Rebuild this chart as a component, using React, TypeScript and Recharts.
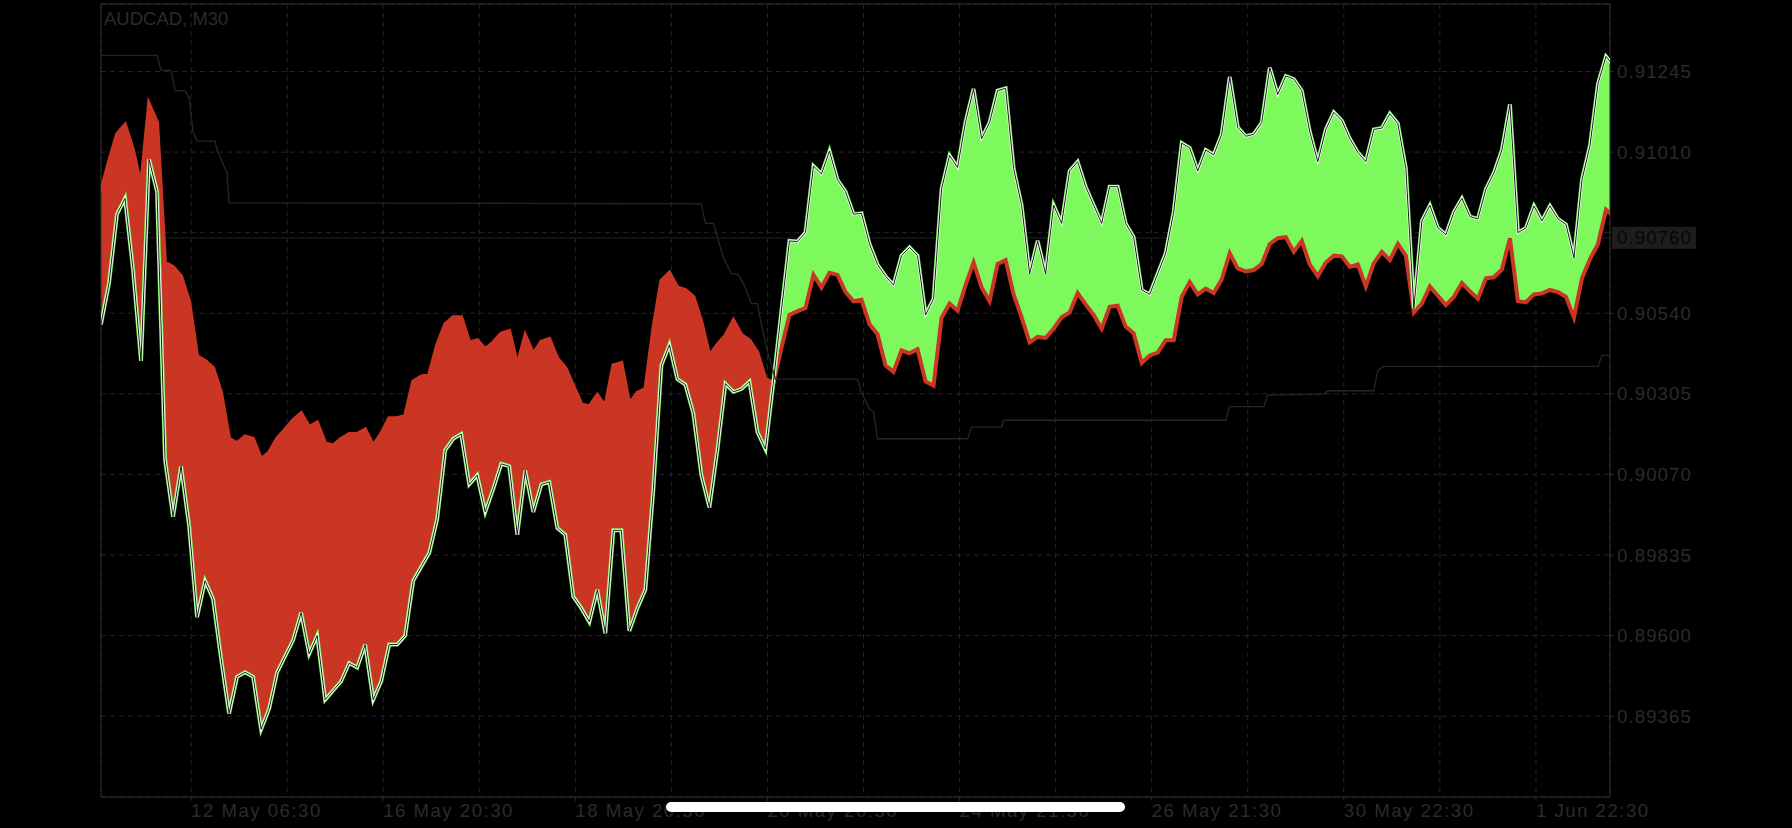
import React from 'react';
import { ComposedChart, Area, Line, XAxis, YAxis, CartesianGrid, ReferenceLine, ReferenceArea } from 'recharts';

// smoothed price, sampled every 4 bars (M30)
const priceLine = [
  0.90508, 0.90628, 0.90829, 0.90875, 0.90668, 0.90401, 0.90989, 0.90895, 0.90114, 0.89947,
  0.90094, 0.89921, 0.89654, 0.89760, 0.89707, 0.89533, 0.89373, 0.89480, 0.89493, 0.89480,
  0.89327, 0.89387, 0.89493, 0.89540, 0.89587, 0.89667, 0.89547, 0.89600, 0.89413, 0.89440,
  0.89467, 0.89520, 0.89507, 0.89574, 0.89413, 0.89467, 0.89574, 0.89574, 0.89600, 0.89760,
  0.89801, 0.89841, 0.89941, 0.90141, 0.90174, 0.90188, 0.90041, 0.90068, 0.89961, 0.90028,
  0.90101, 0.90094, 0.89894, 0.90081, 0.89961, 0.90041, 0.90048, 0.89914, 0.89894, 0.89714,
  0.89680, 0.89640, 0.89734, 0.89607, 0.89907, 0.89907, 0.89614, 0.89680, 0.89734, 0.90028,
  0.90388, 0.90448, 0.90348, 0.90332, 0.90248, 0.90068, 0.89974, 0.90141, 0.90335, 0.90311,
  0.90319, 0.90341, 0.90194, 0.90144, 0.90341, 0.90548, 0.90751, 0.90749, 0.90775, 0.90969,
  0.90946, 0.91013, 0.90929, 0.90895, 0.90829, 0.90831, 0.90742, 0.90682, 0.90648, 0.90622,
  0.90708, 0.90732, 0.90708, 0.90535, 0.90582, 0.90902, 0.91000, 0.90965, 0.91098, 0.91194,
  0.91049, 0.91096, 0.91189, 0.91196, 0.90962, 0.90855, 0.90655, 0.90751, 0.90655, 0.90855,
  0.90802, 0.90955, 0.90982, 0.90909, 0.90855, 0.90802, 0.90909, 0.90909, 0.90802, 0.90762,
  0.90608, 0.90595, 0.90655, 0.90715, 0.90835, 0.91036, 0.91022, 0.90955, 0.91016, 0.91002,
  0.91062, 0.91229, 0.91082, 0.91056, 0.91062, 0.91096, 0.91256, 0.91178, 0.91232, 0.91223,
  0.91189, 0.91069, 0.90982, 0.91076, 0.91126, 0.91102, 0.91049, 0.91009, 0.90982, 0.91076,
  0.91080, 0.91122, 0.91093, 0.90962, 0.90555, 0.90809, 0.90855, 0.90789, 0.90769, 0.90835,
  0.90875, 0.90822, 0.90815, 0.90902, 0.90949, 0.91016, 0.91149, 0.90775, 0.90789, 0.90853,
  0.90809, 0.90853, 0.90815, 0.90799, 0.90702, 0.90929, 0.91029, 0.91209, 0.91289, 0.91260,
];

// slow signal line (red)
const signalLine = [
  0.90895, 0.90982, 0.91062, 0.91089, 0.91016, 0.90909, 0.91149, 0.91096, 0.90688, 0.90675,
  0.90648, 0.90575, 0.90415, 0.90401, 0.90381, 0.90308, 0.90174, 0.90161, 0.90181, 0.90174,
  0.90114, 0.90134, 0.90174, 0.90201, 0.90228, 0.90248, 0.90208, 0.90221, 0.90161, 0.90154,
  0.90174, 0.90188, 0.90188, 0.90201, 0.90154, 0.90188, 0.90234, 0.90234, 0.90241, 0.90341,
  0.90355, 0.90361, 0.90448, 0.90508, 0.90528, 0.90528, 0.90455, 0.90461, 0.90435, 0.90455,
  0.90481, 0.90488, 0.90388, 0.90475, 0.90421, 0.90457, 0.90465, 0.90408, 0.90381, 0.90328,
  0.90275, 0.90268, 0.90301, 0.90268, 0.90388, 0.90395, 0.90275, 0.90308, 0.90319, 0.90495,
  0.90635, 0.90658, 0.90615, 0.90608, 0.90588, 0.90515, 0.90415, 0.90448, 0.90475, 0.90519,
  0.90477, 0.90461, 0.90425, 0.90348, 0.90337, 0.90439, 0.90535, 0.90546, 0.90555, 0.90652,
  0.90615, 0.90658, 0.90652, 0.90602, 0.90575, 0.90579, 0.90508, 0.90479, 0.90388, 0.90369,
  0.90432, 0.90423, 0.90435, 0.90341, 0.90329, 0.90527, 0.90568, 0.90548, 0.90622, 0.90688,
  0.90615, 0.90575, 0.90684, 0.90695, 0.90595, 0.90528, 0.90455, 0.90471, 0.90468, 0.90495,
  0.90528, 0.90542, 0.90599, 0.90566, 0.90535, 0.90495, 0.90559, 0.90562, 0.90501, 0.90481,
  0.90395, 0.90417, 0.90425, 0.90461, 0.90461, 0.90588, 0.90631, 0.90595, 0.90612, 0.90599,
  0.90639, 0.90715, 0.90671, 0.90662, 0.90666, 0.90684, 0.90742, 0.90759, 0.90762, 0.90719,
  0.90751, 0.90682, 0.90648, 0.90688, 0.90708, 0.90706, 0.90675, 0.90682, 0.90618, 0.90686,
  0.90719, 0.90695, 0.90742, 0.90708, 0.90542, 0.90568, 0.90618, 0.90591, 0.90564, 0.90588,
  0.90628, 0.90604, 0.90582, 0.90642, 0.90645, 0.90668, 0.90759, 0.90575, 0.90572, 0.90595,
  0.90598, 0.90608, 0.90602, 0.90588, 0.90527, 0.90642, 0.90698, 0.90742, 0.90842, 0.90822,
];

// trailing stop (thin dark line)
const stepBars = [
  0, 28, 30, 35, 37, 42, 44, 46, 48, 57, 58, 63, 64, 300, 302, 306, 311, 315, 318, 321,
  325, 328, 329, 333, 337, 378, 380, 384, 386, 388, 433, 435, 450, 451, 562, 564, 581, 583,
  611, 613, 636, 638, 641, 748, 750, 756,
];
const stepLevels = [
  0.91292, 0.91292, 0.91248, 0.91248, 0.91189, 0.91189, 0.91169, 0.91069, 0.91042, 0.91042,
  0.91015, 0.90949, 0.90862, 0.90859, 0.90802, 0.90802, 0.90702, 0.90655, 0.90655, 0.90628,
  0.90568, 0.90568, 0.90535, 0.90428, 0.90348, 0.90348, 0.90308, 0.90261, 0.90254, 0.90174,
  0.90174, 0.90208, 0.90208, 0.90228, 0.90228, 0.90268, 0.90268, 0.90301, 0.90304, 0.90314,
  0.90314, 0.90374, 0.90385, 0.90385, 0.90417, 0.90417,
];

const timeLabels = ['12 May 06:30', '16 May 20:30', '18 May 20:30', '20 May 20:30', '24 May 21:30', '26 May 21:30', '30 May 22:30', '1 Jun 22:30'];
const labelBars = [45, 141, 237, 333, 429, 525, 621, 717];
const gridBars = [45, 93, 141, 189, 237, 285, 333, 381, 429, 477, 525, 573, 621, 669, 717];
const priceTicks = [0.89365, 0.896, 0.89835, 0.9007, 0.90305, 0.9054, 0.90775, 0.9101, 0.91245];
const hiddenTick = 0.90775;
const lastPrice = 0.9076;

const Y_MIN = 0.891294;
const Y_MAX = 0.914418;
const X_MAX = 754;

const RED = '#cb3524';
const GREEN = '#7df95e';
const DIM = '#2b2b2b';
const FONT = '"Liberation Sans", Arial, sans-serif';

const data = priceLine.map((p, i) => ({ bar: i * 4, price: p, signal: signalLine[i] }));
const stepData = stepBars.map((b, i) => ({ bar: b, step: stepLevels[i] }));
// last price level, drawn as an unfilled area so it stays behind the bands
const lastPriceData = [{ bar: 0, level: lastPrice }, { bar: X_MAX, level: lastPrice }];

const redBand = (d: any) => (d.signal > d.price ? [d.price, d.signal] : [d.price, d.price]);
const greenBand = (d: any) => (d.price > d.signal ? [d.signal, d.price] : [d.signal, d.signal]);

const TimeTick = ({ x, y, payload }: any) => {
  const idx = labelBars.indexOf(payload.value);
  if (idx < 0) return <g />;
  return (
    <g>
      <line x1={x} x2={x} y1={y} y2={y + 4} stroke={DIM} />
      <text x={x} y={y + 20} fill={DIM} fontSize={18.6} letterSpacing={1.5} fontFamily={FONT} textAnchor="start">
        {timeLabels[idx]}
      </text>
    </g>
  );
};

const PriceTick = ({ x, y, payload }: any) => {
  if (Math.abs(payload.value - hiddenTick) < 1e-7) return <g />;
  return (
    <g>
      <line x1={x} x2={x + 4} y1={y} y2={y} stroke={DIM} />
      <text x={x + 7} y={y + 6.5} fill={DIM} fontSize={18.6} letterSpacing={1.1} fontFamily={FONT} textAnchor="start">
        {payload.value.toFixed(5)}
      </text>
    </g>
  );
};

const LastPriceLabel = (props: any) => {
  const { viewBox } = props;
  const x = viewBox.x + viewBox.width;
  const y = viewBox.y;
  return (
    <g>
      <rect x={x + 2} y={y - 11} width={84} height={22} fill="#1d1d1d" />
      <text x={x + 7} y={y + 6.5} fill="#070707" fontSize={18.6} letterSpacing={1.1} fontFamily={FONT}>
        {lastPrice.toFixed(5)}
      </text>
    </g>
  );
};

export default function App() {
  return (
    <div style={{ position: 'relative', width: 1792, height: 828, background: '#000', fontFamily: FONT }}>
      <style>{'body{margin:0;background:#000;}'}</style>
      <ComposedChart width={1792} height={828} data={data} margin={{ top: 4, right: 0, bottom: 0, left: 101 }}>
        <CartesianGrid stroke="#252525" strokeDasharray="5 4" />
        <XAxis
          dataKey="bar"
          type="number"
          domain={[0, X_MAX]}
          allowDataOverflow
          ticks={gridBars}
          interval={0}
          height={31}
          axisLine={false}
          tickLine={false}
          tickSize={0}
          tickMargin={0}
          tick={<TimeTick />}
        />
        <YAxis
          orientation="right"
          domain={[Y_MIN, Y_MAX]}
          allowDataOverflow
          ticks={priceTicks}
          interval={0}
          width={182}
          axisLine={false}
          tickLine={false}
          tickSize={0}
          tickMargin={0}
          tick={<PriceTick />}
        />
        <Area data={lastPriceData} type="linear" dataKey="level" stroke="#1e1e1e" strokeWidth={1} fill="none" dot={false} activeDot={false} isAnimationActive={false} />
        <Area type="linear" dataKey={redBand} fill={RED} fillOpacity={1} stroke="none" isAnimationActive={false} activeDot={false} />
        <Area type="linear" dataKey={greenBand} fill={GREEN} fillOpacity={1} stroke="none" isAnimationActive={false} activeDot={false} />
        <Line type="linear" dataKey="signal" stroke={RED} strokeWidth={4} dot={false} activeDot={false} isAnimationActive={false} />
        <Line type="linear" dataKey="price" stroke={GREEN} strokeWidth={4} dot={false} activeDot={false} isAnimationActive={false} />
        <Line type="linear" dataKey="price" stroke="#ffffff" strokeWidth={2.4} dot={false} activeDot={false} isAnimationActive={false} />
        <Line type="linear" dataKey="price" stroke="#000000" strokeWidth={0.9} dot={false} activeDot={false} isAnimationActive={false} />
        <Line data={stepData} type="linear" dataKey="step" stroke="#262626" strokeWidth={1.3} dot={false} activeDot={false} isAnimationActive={false} />
        <ReferenceLine y={lastPrice} stroke="none" strokeOpacity={0} label={<LastPriceLabel />} />
        <ReferenceArea x1={0} x2={X_MAX} y1={Y_MIN} y2={Y_MAX} fill="none" stroke="#2e2e2e" strokeWidth={1} ifOverflow="extendDomain" />
      </ComposedChart>
      <div style={{ position: 'absolute', left: 104, top: 9, fontSize: 18.5, lineHeight: '20px', color: '#2b2b2b' }}>AUDCAD, M30</div>
      <div style={{ position: 'absolute', left: 666, top: 802, width: 459, height: 10, borderRadius: 5, background: '#ffffff' }} />
    </div>
  );
}
